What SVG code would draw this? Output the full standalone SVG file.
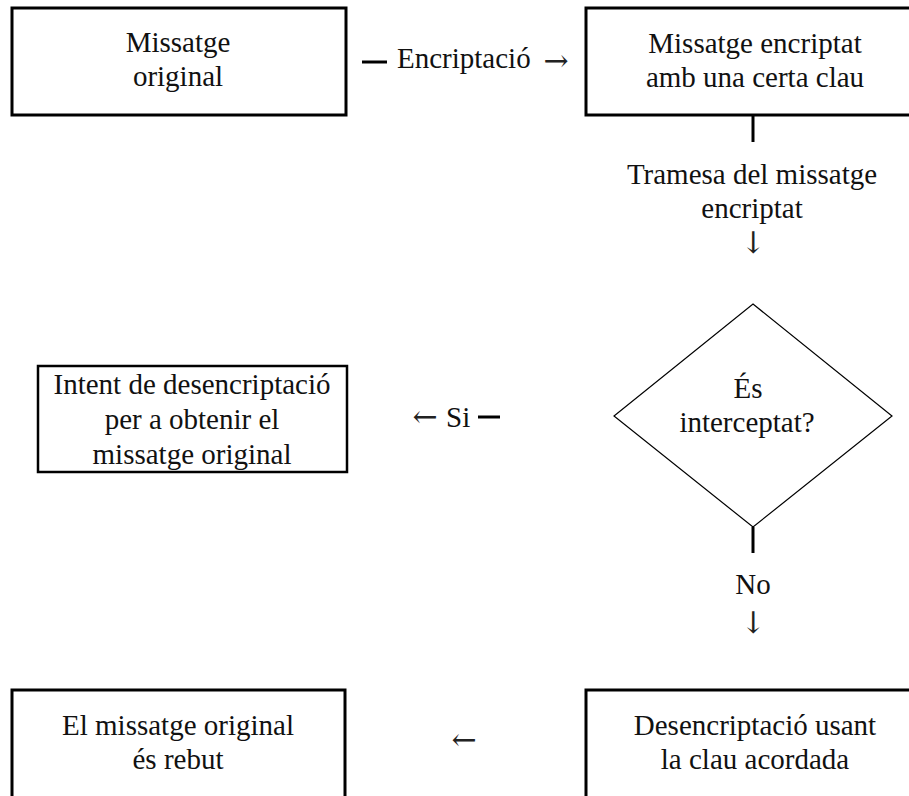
<svg xmlns="http://www.w3.org/2000/svg" width="909" height="796" viewBox="0 0 909 796">
<style>
  .box { fill: #fff; stroke: #000; stroke-width: 3; }
  .thin { fill: #fff; stroke: #000; stroke-width: 1.2; }
  .t { font-family: "Liberation Serif", "DejaVu Serif", serif; font-size: 29px; fill: #111; text-anchor: middle; }
  .ts { font-family: "Liberation Serif", "DejaVu Serif", serif; font-size: 29px; fill: #111; }
  .ar { font-family: "DejaVu Serif", "Liberation Serif", serif; font-size: 30px; fill: #222; text-anchor: middle; }
  .stub { stroke: #000; stroke-width: 3; fill: none; }
</style>
<rect width="909" height="796" fill="#fff"/>

<g id="node-original">
  <rect class="box" x="12" y="8" width="334" height="107"/>
  <text class="t" x="178" y="52">Missatge</text>
  <text class="t" x="178" y="86">original</text>
</g>

<g id="node-encriptat">
  <rect class="box" x="586" y="8" width="340" height="107"/>
  <text class="t" x="755" y="53">Missatge encriptat</text>
  <text class="t" x="755" y="87">amb una certa clau</text>
</g>

<g id="node-interceptat">
  <polygon class="thin" points="753,304 892,416 753,527 614,416"/>
  <text class="t" x="748" y="398">És</text>
  <text class="t" x="747" y="432">interceptat?</text>
</g>

<g id="node-intent">
  <rect class="box" x="38" y="366" width="309" height="106" style="stroke-width:2.5"/>
  <text class="t" x="192" y="394">Intent de desencriptació</text>
  <text class="t" x="192" y="429">per a obtenir el</text>
  <text class="t" x="192" y="464">missatge original</text>
</g>

<g id="node-rebut">
  <rect class="box" x="12" y="690" width="333" height="110"/>
  <text class="t" x="178" y="735">El missatge original</text>
  <text class="t" x="178" y="769">és rebut</text>
</g>

<g id="node-desencriptacio">
  <rect class="box" x="586" y="690" width="340" height="110"/>
  <text class="t" x="755" y="735">Desencriptació usant</text>
  <text class="t" x="755" y="769">la clau acordada</text>
</g>

<g id="connectors">
  <line class="stub" x1="362" y1="62" x2="387" y2="62"/>
  <text class="ts" x="397" y="68">Encriptació</text>
  <text class="ar" x="556" y="71">→</text>

  <line class="stub" x1="753" y1="116" x2="753" y2="142"/>
  <text class="t" x="752" y="184">Tramesa del missatge</text>
  <text class="t" x="752" y="218">encriptat</text>
  <text class="ar" x="753" y="253">↓</text>

  <text class="ar" x="425" y="427">←</text>
  <text class="ts" x="446" y="427">Si</text>
  <line class="stub" x1="478" y1="417" x2="500" y2="417"/>

  <line class="stub" x1="753" y1="527" x2="753" y2="553"/>
  <text class="t" x="753" y="594">No</text>
  <text class="ar" x="753" y="633">↓</text>

  <text class="ar" x="464" y="750">←</text>
</g>
</svg>
